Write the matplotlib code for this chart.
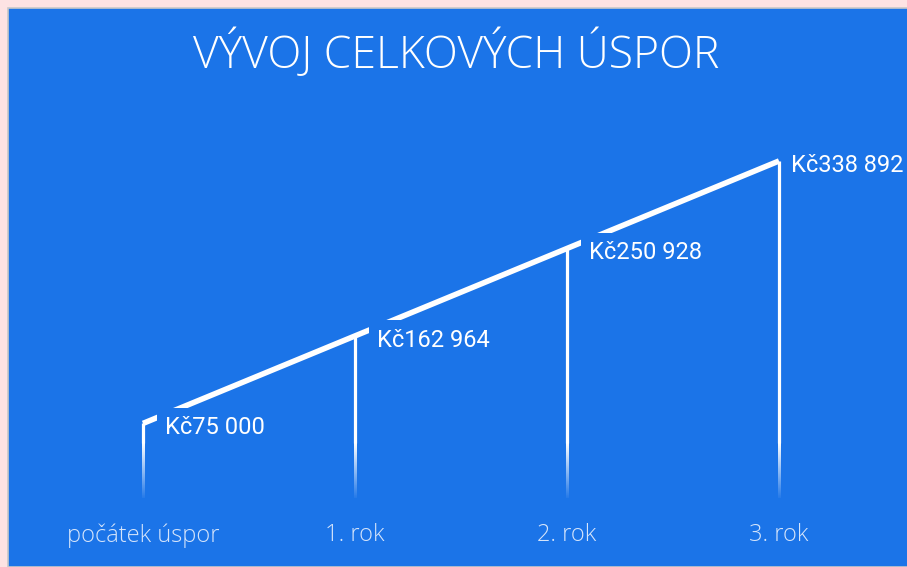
import numpy as np
import matplotlib
matplotlib.use("Agg")
import matplotlib.pyplot as plt
from matplotlib.patches import Rectangle

# data
categories = ["počátek úspor", "1. rok", "2. rok", "3. rok"]
savings = [75000, 162964, 250928, 338892]
value_labels = ["Kč75 000", "Kč162 964", "Kč250 928", "Kč338 892"]
title = "VÝVOJ CELKOVÝCH ÚSPOR"

blue = "#1b74e8"
pink = "#fde3e3"

plt.rcParams['font.family'] = ['Roboto', 'DejaVu Sans']

fig = plt.figure(figsize=(9.07, 5.67), dpi=100, facecolor=pink)
# blue panel with thin grey edge
fig.patches.append(Rectangle((8 / 907, 0), 1, 1 - 8 / 567, transform=fig.transFigure,
                             facecolor=blue, edgecolor="#c8c8c8", linewidth=1.2, zorder=-5))

ax = fig.add_axes([37 / 907, 69 / 567, 848 / 907, 0.7016])
ax.set_zorder(2)
ax.set_facecolor("none")
ax.set_xlim(-0.5, 3.5)
ax.set_ylim(0, 400000)
for s in ax.spines.values():
    s.set_visible(False)
ax.set_yticks([])
ax.set_xticks(range(len(categories)))
ax.set_xticklabels(categories, color="#d6e5fb", fontsize=17,
                   family=["Open Sans", "DejaVu Sans"], fontweight="light")
ax.tick_params(axis="x", length=0, pad=18)

x = np.arange(len(savings))

# drop lines: solid upper part, gradient fade near the bottom
fade_top = 55000
half_w = 1.2 / 212
grad = np.zeros((100, 1, 4))
grad[..., :3] = 1
grad[:, 0, 3] = np.linspace(1, 0.05, 100)
for xi, v in zip(x, savings):
    ax.plot([xi, xi], [fade_top, v], color="white", linewidth=2.3,
            solid_capstyle="butt", zorder=2)
    ax.imshow(grad, extent=[xi - half_w, xi + half_w, 0, fade_top],
              aspect="auto", interpolation="bilinear", zorder=2)
ax.set_xlim(-0.5, 3.5)
ax.set_ylim(0, 400000)

# main line
ax.plot(x, savings, color="white", linewidth=4, solid_capstyle="butt", zorder=3)

# value labels with blue boxes that cut the line
for i, (xi, v, lab) in enumerate(zip(x, savings, value_labels)):
    dx = 9 if i == len(savings) - 1 else 16
    ax.annotate(lab, (xi, v), xytext=(dx, -3), textcoords="offset points",
                ha="left", va="center", color="white", fontsize=17,
                bbox=dict(boxstyle="square,pad=0.35", facecolor=blue, edgecolor="none"),
                zorder=4)

fig.text(0.503, 0.905, title, ha="center", va="center", color="white",
         fontsize=32, family=["Open Sans", "DejaVu Sans"], fontweight="light")

fig.savefig("out.png", dpi=100, facecolor=pink)
